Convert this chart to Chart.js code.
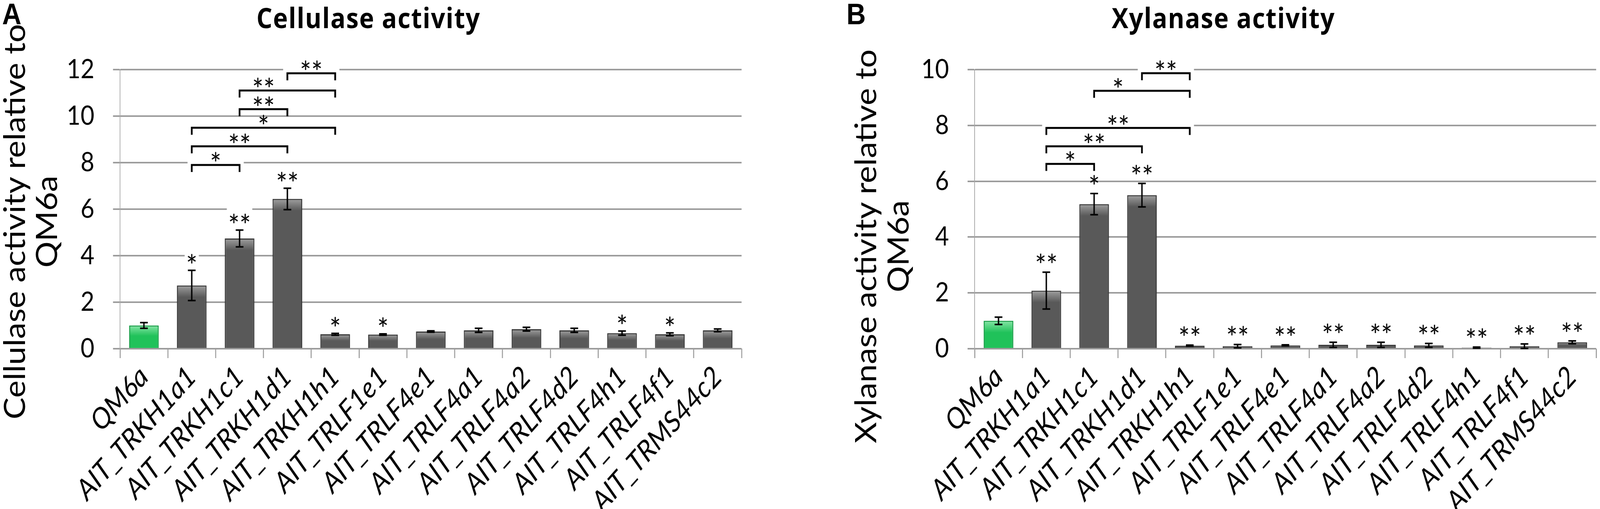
<!DOCTYPE html>
<html>
<head>
<meta charset="utf-8">
<script src="https://cdn.jsdelivr.net/npm/chart.js@4.4.1/dist/chart.umd.min.js"></script>
<style>
  html, body { margin: 0; padding: 0; width: 100%; height: 100%; overflow: hidden; background: #fff; }
  #stage { position: relative; width: 100vw; height: 100vh; overflow: hidden; background: #fff; }
  #wrap { position: absolute; left: 0; top: 0; width: 4559px; height: 1302px; overflow: hidden; background: #fff; transform-origin: 0 0; }
  canvas { position: absolute; top: 0; }
  .panel { position: absolute; font-family: "Liberation Sans", Arial, sans-serif; font-weight: bold; font-size: 76px; line-height: 76px; }
  .title { position: absolute; width: 900px; font-family: "Open Sans", sans-serif; font-weight: bold; font-size: 71px; line-height: 71px; letter-spacing: 2px; text-align: center; white-space: nowrap; }
  .ytitle { position: absolute; width: 1200px; height: 184px; font-family: Lato, sans-serif; font-size: 84px; line-height: 92px; text-align: center; white-space: nowrap; transform: rotate(-90deg); }
</style>
</head>
<body>
<div id="stage">
<div id="wrap">
  <canvas id="cellulaseChart" width="2250" height="1302" style="left:0"></canvas>
  <canvas id="xylanaseChart" width="2309" height="1302" style="left:2250px"></canvas>
  <div class="panel" style="left:6px; top:-2px">A</div>
  <div class="panel" style="left:2412px; top:-2px">B</div>
  <div class="title" style="left:600px; top:9px">Cellulase activity</div>
  <div class="title" style="left:3036px; top:9px">Xylanase activity</div>
  <div class="ytitle" style="left:-515px; top:475px">Cellulase activity relative to<br>QM6a</div>
  <div class="ytitle" style="left:1911px; top:538px">Xylanase activity relative to<br>QM6a</div>
</div>
</div>
<script>
// strains on the x axis (same for both panels)
const strains = ['QM6a', 'AIT_TRKH1a1', 'AIT_TRKH1c1', 'AIT_TRKH1d1', 'AIT_TRKH1h1', 'AIT_TRLF1e1',
  'AIT_TRLF4e1', 'AIT_TRLF4a1', 'AIT_TRLF4a2', 'AIT_TRLF4d2', 'AIT_TRLF4h1', 'AIT_TRLF4f1', 'AIT_TRMS44c2'];

// panel A - cellulase
const cellulase = [1.0, 2.72, 4.74, 6.44, 0.62, 0.61, 0.74, 0.79, 0.84, 0.79, 0.67, 0.62, 0.79];
const cellulaseErr = [0.12, 0.65, 0.36, 0.46, 0.04, 0.03, 0.03, 0.09, 0.08, 0.09, 0.09, 0.06, 0.06];
const cellulaseStars = ['', '*', '**', '**', '*', '*', '', '', '', '', '*', '*', ''];
const cellulaseTicks = [0, 2, 4, 6, 8, 10, 12];
// comparison brackets: from / to strain index, height, label and where the label sits
const cellBrFrom = [1, 1, 1, 2, 2, 3];
const cellBrTo = [2, 3, 4, 3, 4, 4];
const cellBrLevel = [7.9, 8.7, 9.5, 10.3, 11.1, 11.84];
const cellBrLabel = ['*', '**', '*', '**', '**', '**'];
const cellBrLabelAt = [1.5, 2, 2.5, 2.5, 2.5, 3.5];

// panel B - xylanase
const xylanase = [1.0, 2.08, 5.18, 5.50, 0.11, 0.09, 0.12, 0.14, 0.14, 0.12, 0.04, 0.09, 0.23];
const xylanaseErr = [0.13, 0.66, 0.38, 0.42, 0.02, 0.06, 0.02, 0.09, 0.09, 0.07, 0.02, 0.08, 0.05];
const xylanaseStars = ['', '**', '*', '**', '**', '**', '**', '**', '**', '**', '**', '**', '**'];
const xylanaseTicks = [0, 2, 4, 6, 8, 10];
const xylBrFrom = [1, 1, 1, 2, 3];
const xylBrTo = [2, 3, 4, 4, 4];
const xylBrLevel = [6.62, 7.25, 7.91, 9.24, 9.87];
const xylBrLabel = ['*', '**', '**', '*', '**'];
const xylBrLabelAt = [1.5, 2, 2.5, 2.5, 3.5];

const GREEN = '#20c25a', GREEN_TOP = '#86e6a6', GREEN_EDGE = '#169c45';
const GRAY = '#595959', GRAY_TOP = '#a0a0a0', GRAY_EDGE = '#3a3a3a';
const STAR_FONT = '76px Lato';

// stretch the 4559x1302 layout over the viewport we actually get
const wrap = document.getElementById('wrap');
const sx = window.innerWidth / 4559, sy = window.innerHeight / 1302;
if (Math.abs(sx - 1) > 0.001 || Math.abs(sy - 1) > 0.001) wrap.style.transform = 'scale(' + sx + ',' + sy + ')';

// bar fill: flat colour with a lighter bevel band at the top
function barFill(c) {
  const base = c.dataIndex === 0 ? GREEN : GRAY;
  const light = c.dataIndex === 0 ? GREEN_TOP : GRAY_TOP;
  const y = c.chart.scales.y;
  if (!y || c.raw === undefined) return base;
  const top = y.getPixelForValue(c.raw);
  const bottom = y.getPixelForValue(0);
  const band = Math.min(30, (bottom - top) * 0.45);
  if (!(band > 2)) return base;
  const g = c.chart.ctx.createLinearGradient(0, top, 0, top + band);
  g.addColorStop(0, light);
  g.addColorStop(1, base);
  return g;
}

function centeredText(ctx, s, x, cy) {
  const m = ctx.measureText(s);
  ctx.fillText(s, x, cy + (m.actualBoundingBoxAscent - m.actualBoundingBoxDescent) / 2);
}

const errorBars = {
  id: 'errorBars',
  afterDatasetsDraw(chart, args, o) {
    const {ctx, scales: {y}} = chart;
    const meta = chart.getDatasetMeta(0);
    const vals = chart.data.datasets[0].data;
    ctx.save();
    ctx.strokeStyle = '#000';
    ctx.lineWidth = 4;
    o.errors.forEach((e, i) => {
      const xc = meta.data[i].x;
      const top = y.getPixelForValue(vals[i] + e);
      const bot = y.getPixelForValue(Math.max(vals[i] - e, 0));
      ctx.beginPath();
      ctx.moveTo(xc, top); ctx.lineTo(xc, bot);
      ctx.moveTo(xc - 11, top); ctx.lineTo(xc + 11, top);
      ctx.moveTo(xc - 11, bot); ctx.lineTo(xc + 11, bot);
      ctx.stroke();
    });
    ctx.font = STAR_FONT;
    ctx.textAlign = 'center';
    ctx.textBaseline = 'alphabetic';
    o.stars.forEach((s, i) => {
      if (!s) return;
      const xc = meta.data[i].x;
      const cy = y.getPixelForValue(vals[i] + o.errors[i]) - o.gap;
      const w = ctx.measureText(s).width;
      ctx.fillStyle = '#fff';
      ctx.fillRect(xc - w / 2 - 4, cy - 28, w + 8, 30);
      ctx.fillStyle = '#000';
      centeredText(ctx, s, xc, cy);
    });
    ctx.restore();
  }
};

const brackets = {
  id: 'brackets',
  afterDatasetsDraw(chart, args, o) {
    const {ctx, scales: {x, y}} = chart;
    ctx.save();
    // white label boxes hide the gridlines behind them
    ctx.fillStyle = '#fff';
    o.from.forEach((f, k) => {
      const xa = x.getPixelForValue(f), xb = x.getPixelForValue(o.to[k]);
      const yl = y.getPixelForValue(o.level[k]);
      ctx.fillRect(xa - 12, yl - 20, xb - xa + 24, 20);
    });
    ctx.strokeStyle = '#000';
    ctx.lineWidth = 5;
    ctx.lineJoin = 'miter';
    ctx.font = STAR_FONT;
    ctx.textAlign = 'center';
    ctx.textBaseline = 'alphabetic';
    ctx.fillStyle = '#000';
    o.from.forEach((f, k) => {
      const xa = x.getPixelForValue(f), xb = x.getPixelForValue(o.to[k]);
      const yl = y.getPixelForValue(o.level[k]);
      ctx.beginPath();
      ctx.moveTo(xa, yl + 18);
      ctx.lineTo(xa, yl);
      ctx.lineTo(xb, yl);
      ctx.lineTo(xb, yl + 18);
      ctx.stroke();
      centeredText(ctx, o.label[k], x.getPixelForValue(o.labelAt[k]), yl - 21);
    });
    ctx.restore();
  }
};

function buildChart(id, values, errors, stars, gap, br, ticks, yWidth, padLeft, padRight) {
  return new Chart(document.getElementById(id), {
    type: 'bar',
    data: {
      labels: strains,
      datasets: [{
        data: values,
        backgroundColor: barFill,
        borderColor: strains.map((s, i) => i === 0 ? GREEN_EDGE : GRAY_EDGE),
        borderWidth: 3,
        barPercentage: 0.62,
        categoryPercentage: 1
      }]
    },
    options: {
      responsive: false,
      animation: false,
      layout: {padding: {top: 178, left: padLeft, right: padRight, bottom: 0}},
      plugins: {
        legend: {display: false},
        tooltip: {enabled: false},
        errorBars: {errors: errors, stars: stars, gap: gap},
        brackets: br
      },
      scales: {
        x: {
          grid: {offset: true, drawOnChartArea: false, drawTicks: true, tickLength: 24, color: '#a0a0a0', lineWidth: 3},
          border: {display: false},
          ticks: {
            autoSkip: false, minRotation: 45, maxRotation: 45, padding: 4, color: '#000',
            font: {family: 'Lato', style: 'italic', size: 74}
          },
          afterFit: (s) => { s.height = 410; }
        },
        y: {
          min: ticks[0],
          max: ticks[ticks.length - 1],
          afterBuildTicks: (s) => { s.ticks = ticks.map(v => ({value: v})); },
          ticks: {padding: 53, color: '#000', font: {family: 'Lato', size: 68}},
          grid: {color: '#9c9c9c', lineWidth: 4, tickLength: 20, drawTicks: true},
          border: {display: true, color: '#a8a8a8', width: 2},
          afterFit: (s) => { s.width = yWidth; }
        }
      }
    },
    plugins: [errorBars, brackets]
  });
}

Promise.all([
  document.fonts.load('68px Lato'),
  document.fonts.load('italic 74px Lato'),
  document.fonts.load('bold 71px "Open Sans"')
]).catch(() => {}).then(() => {
  buildChart('cellulaseChart', cellulase, cellulaseErr, cellulaseStars, 30,
    {from: cellBrFrom, to: cellBrTo, level: cellBrLevel, label: cellBrLabel, labelAt: cellBrLabelAt},
    cellulaseTicks, 342, 0, 137);
  buildChart('xylanaseChart', xylanase, xylanaseErr, xylanaseStars, 36,
    {from: xylBrFrom, to: xylBrTo, level: xylBrLevel, label: xylBrLabel, labelAt: xylBrLabelAt},
    xylanaseTicks, 354, 173, 11);
});
</script>
</body>
</html>
